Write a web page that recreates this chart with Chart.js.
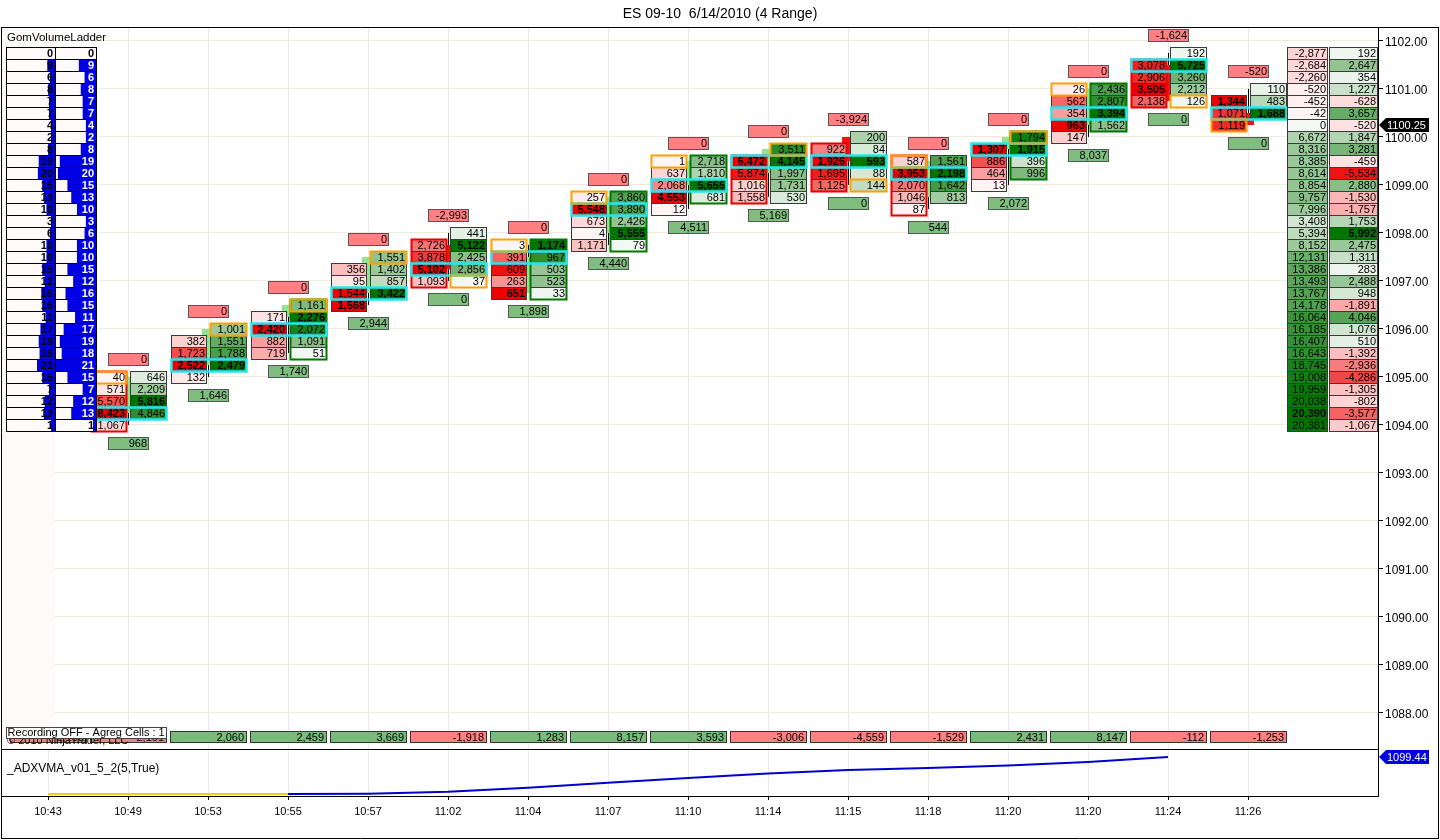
<!DOCTYPE html>
<html><head><meta charset="utf-8">
<script src="https://cdn.jsdelivr.net/npm/chart.js@4.4.1/dist/chart.umd.min.js"></script>
<style>html,body{margin:0;padding:0;background:#fff;overflow:hidden}canvas{display:block}</style>
</head><body>
<canvas id="c" width="1440" height="840"></canvas>
<script>
const chartTitle = 'ES 09-10  6/14/2010 (4 Range)';
const times = ['10:43','10:49','10:53','10:55','10:57','11:02','11:04','11:07','11:10','11:14','11:15','11:18','11:20','11:20','11:24','11:26'];
const priceTicks = [1088,1089,1090,1091,1092,1093,1094,1095,1096,1097,1098,1099,1100,1101,1102];

// footprint bars (bar index 1..15)
const barPos = [1,2,3,4,5,6,7,8,9,10,11,12,13,14,15];
const bidTop = [1095.00,1095.75,1096.25,1097.25,1097.75,1097.75,1098.75,1099.50,1099.50,1099.75,1099.50,1099.75,1101.00,1101.50,1100.75];
const bidVol = [[40,571,5570,8423,1067],[382,1723,2522,132],[171,2420,882,719],[356,95,1544,1568],[2726,3878,5102,1093],[3,391,609,263,651],[257,5548,673,4,1171],[1,637,2068,4553,12],[6472,5874,1016,1558],[922,1926,1695,1125],[587,3953,2070,1046,87],[1307,886,464,13],[26,562,354,963,147],[3078,2906,3505,2138],[1344,1071,1119]];
const askTop = [1095.00,1096.00,1096.50,1097.50,1098.00,1097.75,1098.75,1099.50,1099.75,1100.00,1099.50,1100.00,1101.00,1101.75,1101.00];
const askVol = [[646,2209,5816,4846],[1001,1551,1788,2479],[1161,2276,2072,1091,51],[1551,1402,857,3422],[441,5122,2425,2856,37],[1174,967,503,523,33],[3860,3890,2426,5555,79],[2718,1810,5655,681],[3511,4145,1997,1731,530],[200,84,593,88,144],[1561,2198,1642,813],[1794,1915,396,996],[2436,2807,3394,1562],[192,5725,3260,2212,126],[110,483,1688]];
const openP  = [1094.25,1095.25,1096.25,1096.75,1097.75,1096.75,1098.00,1099.00,1099.25,1100.00,1098.75,1099.75,1100.25,1101.50,1100.50];
const closeP = [1095.00,1096.00,1096.50,1097.50,1097.25,1097.50,1098.75,1099.50,1099.75,1099.50,1099.50,1100.00,1101.00,1100.75,1100.25];
const highP  = [1095.00,1096.00,1096.50,1097.50,1098.00,1097.75,1098.75,1099.50,1099.75,1100.00,1099.50,1100.00,1101.00,1101.75,1101.00];
const lowP   = [1094.00,1095.00,1095.50,1096.50,1097.00,1096.75,1097.75,1098.50,1098.75,1099.00,1098.50,1099.00,1100.00,1100.75,1100.25];
const topDelta = [0,0,0,0,-2993,0,0,0,0,-3924,0,0,0,-1624,-520];
const lowDelta = [968,1646,1740,2944,0,1898,4440,4511,5169,0,544,2072,8037,0,0];
const openSide = ['L','R','R','R','R','L','L','L','R','R','L','R','L','R','L'];
const openCell = [1095.00,1096.00,1096.50,1097.50,1097.00,1097.75,1098.75,1099.50,1099.75,1099.00,1099.50,1100.00,1101.00,1100.75,1100.25];
const pocPrice = [1094.25,1095.25,1096.00,1096.75,1097.25,1097.50,1098.50,1099.00,1099.50,1099.50,1099.25,1099.75,1100.50,1101.50,1100.50];
const boxSide = ['L','','R','','L','R','R','R','L','L','L','R','R','L',''];

// per-bar delta row at the bottom (bars 0..15)
const barDelta = [-2183,-2101,2060,2459,3669,-1918,1283,8157,3593,-3006,-4559,-1529,2431,8147,-112,-1253];

// volume ladder (left), from 1101.75 down by 0.25
const ladderTop = 1101.75;
const ladderVol = [0,9,6,8,7,7,4,2,8,19,20,15,13,10,3,6,10,10,15,12,16,15,11,17,19,18,21,15,7,12,13,1];

// cumulative delta ladder (right), from 1101.75 down by 0.25
const netA = [-2877,-2684,-2260,-520,-452,-42,0,6672,8316,8385,8614,8854,9757,7996,3408,5394,8152,12131,13386,13493,13767,14178,16064,16185,16407,16643,18745,19008,19959,20038,20390,20381];
const netB = [192,2647,354,1227,-628,3657,-520,1847,3281,-459,-5534,2880,-1530,-1757,1753,5992,2475,1311,283,2488,948,-1891,4046,1076,510,-1392,-2936,-4286,-1305,-802,-3577,-1067];

const lastPrice = 1100.25;
// ADXVMA sub-panel
const adxLabel = '_ADXVMA_v01_5_2(5,True)';
const adxValues = [1095.23,1095.23,1095.23,1095.23,1095.27,1095.49,1095.95,1096.50,1097.05,1097.55,1097.95,1098.20,1098.47,1098.87,1099.44];
const adxFlatUntil = 3;

const FONT = '"Liberation Sans", Arial, sans-serif';
const fmt = v => v.toLocaleString('en-US');
function mix(a,b,t){t=Math.max(0,Math.min(1,t));return 'rgb('+Math.round(a[0]+(b[0]-a[0])*t)+','+Math.round(a[1]+(b[1]-a[1])*t)+','+Math.round(a[2]+(b[2]-a[2])*t)+')';}
const W_R=[255,246,246], C_R=[238,0,0], W_G=[244,249,244], C_G=[0,118,0];
const redCol = r => mix(W_R,C_R,r);
const greenCol = r => mix(W_G,C_G,Math.pow(r,1.1));

function box(ctx,x1,y1,x2,y2,fill,stroke){
  x1=Math.round(x1);x2=Math.round(x2);y1=Math.round(y1);y2=Math.round(y2);
  if(fill){ctx.fillStyle=fill;ctx.fillRect(x1,y1,x2-x1,y2-y1);}
  if(stroke){ctx.strokeStyle=stroke;ctx.lineWidth=1;ctx.strokeRect(x1+0.5,y1+0.5,x2-x1,y2-y1);}
  return [x1,y1,x2,y2];
}
function txt(ctx,s,x,y,align,font,color){ctx.font=font;ctx.fillStyle=color||'#000';ctx.textAlign=align;ctx.textBaseline='middle';ctx.fillText(s,x,y);}
function outline(ctx,x1,y1,x2,y2,color,lw){ctx.strokeStyle=color;ctx.lineWidth=lw;ctx.strokeRect(Math.round(x1)+0.5,Math.round(y1)+0.5,Math.round(x2)-Math.round(x1),Math.round(y2)-Math.round(y1));}

const LC=[-0.4625,-0.025], RC=[0.025,0.475];

const footprint = {
  id:'footprint',
  afterDraw(chart){
    const ctx=chart.ctx, xs=chart.scales.x, ys=chart.scales.y, a=chart.chartArea;
    const X=v=>xs.getPixelForValue(v), Y=p=>ys.getPixelForValue(p);
    const sep = Math.round(Y(1087.25));
    ctx.save();
    // title
    txt(ctx,chartTitle,720,14,'center','14px '+FONT,'#000');
    // pale strip under ladder
    ctx.fillStyle='rgb(255,250,250)';ctx.fillRect(a.left+1,a.top+1,Math.round(X(0.0875))-a.left-1,sep-a.top-1);

    // footprint bars
    barPos.forEach((b,i)=>{
      const c=X(b);
      const up = closeP[i]>=openP[i];
      // wick
      ctx.strokeStyle='#000';ctx.lineWidth=1;ctx.beginPath();ctx.moveTo(Math.round(c)+0.5,Y(highP[i]));ctx.lineTo(Math.round(c)+0.5,Y(lowP[i]));ctx.stroke();
      // body
      const bt=Y(Math.max(openP[i],closeP[i])), bb=Y(Math.min(openP[i],closeP[i]));
      box(ctx,c-6,bt,c+6,Math.max(bb,bt+2),up?'rgb(144,228,144)':'rgb(240,20,20)',null);
      const bMax=Math.max(...bidVol[i]), aMax=Math.max(...askVol[i]);
      bidVol[i].forEach((v,k)=>{const p=bidTop[i]-0.25*k;
        box(ctx,X(b+LC[0]),Y(p+0.125),X(b+LC[1]),Y(p-0.125),redCol(v/bMax),'#3a3a3a');
        txt(ctx,fmt(v),Math.round(X(b+LC[1]))-1,Y(p)+1,'right',(v===bMax?'bold ':'')+'11px '+FONT,'#000');});
      askVol[i].forEach((v,k)=>{const p=askTop[i]-0.25*k;
        box(ctx,X(b+RC[0]),Y(p+0.125),X(b+RC[1]),Y(p-0.125),greenCol(v/aMax),'#3a3a3a');
        txt(ctx,fmt(v),Math.round(X(b+RC[1]))-1,Y(p)+1,'right',(v===aMax?'bold ':'')+'11px '+FONT,'#000');});
      // column outline
      if(boxSide[i]==='L'){const n=bidVol[i].length;outline(ctx,X(b+LC[0]),Y(bidTop[i]+0.125),X(b+LC[1]),Y(bidTop[i]-0.25*(n-1)-0.125),'rgb(230,0,0)',2);}
      if(boxSide[i]==='R'){const n=askVol[i].length;outline(ctx,X(b+RC[0]),Y(askTop[i]+0.125),X(b+RC[1]),Y(askTop[i]-0.25*(n-1)-0.125),'rgb(0,120,0)',2);}
      // POC row
      outline(ctx,X(b+LC[0]),Y(pocPrice[i]+0.125),X(b+RC[1]),Y(pocPrice[i]-0.125),'rgb(40,228,236)',2.5);
      // open cell
      const col=openSide[i]==='L'?LC:RC;
      outline(ctx,X(b+col[0]),Y(openCell[i]+0.125),X(b+col[1]),Y(openCell[i]-0.125),'rgb(255,160,0)',2);
      // labels
      const tp=highP[i]+0.375, lp=lowP[i]-0.375;
      box(ctx,X(b-0.25),Y(tp+0.125),X(b+0.25),Y(tp-0.125),'rgb(255,128,128)','#555');
      txt(ctx,fmt(topDelta[i]),Math.round(X(b+0.25))-1,Y(tp)+1,'right','11px '+FONT,'#000');
      box(ctx,X(b-0.25),Y(lp+0.125),X(b+0.25),Y(lp-0.125),'rgb(128,190,128)','#555');
      txt(ctx,fmt(lowDelta[i]),Math.round(X(b+0.25))-1,Y(lp)+1,'right','11px '+FONT,'#000');
    });

    // volume ladder
    txt(ctx,'GomVolumeLadder',a.left+6,Y(ladderTop+0.31),'left','11.5px '+FONT,'#000');
    const lMax=Math.max(...ladderVol);
    ladderVol.forEach((v,k)=>{const p=ladderTop-0.25*k;
      const y1=Y(p+0.125), y2=Y(p-0.125);
      const L=box(ctx,X(-0.53),y1,X(0.0875),y2,'rgb(255,250,250)',null);
      const R=box(ctx,X(0.0875),y1,X(0.6),y2,'rgb(255,250,250)',null);
      ctx.font='bold 11px '+FONT; const tw=ctx.measureText(String(v)).width;
      if(v>0){const wl=Math.max(v/lMax*18,4);ctx.fillStyle='rgb(0,0,228)';ctx.fillRect(L[2]-wl,L[1],wl,L[3]-L[1]);
              const wr=Math.max(v/lMax*(R[2]-R[0]-1),v>1?tw+4:3);ctx.fillRect(R[2]-wr,R[1],wr,R[3]-R[1]);}
      box(ctx,L[0],L[1],L[2],L[3],null,'#000');box(ctx,R[0],R[1],R[2],R[3],null,'#000');
      txt(ctx,String(v),L[2]-2,(L[1]+L[3])/2+1,'right','bold 11px '+FONT,'#000');
      txt(ctx,String(v),R[2]-2,(R[1]+R[3])/2+1,'right','bold 11px '+FONT,v>1?'#fff':'#000');
    });

    // cumulative delta ladder
    const mA=Math.max(...netA.map(Math.abs)), mB=Math.max(...netB.map(Math.abs));
    const pA=Math.max(...netA), pB=Math.max(...netB);
    [[netA,mA,pA,15.4875,15.9875],[netB,mB,pB,16.0125,16.615]].forEach(([arr,m,pm,x1,x2])=>{
      arr.forEach((v,k)=>{const p=ladderTop-0.25*k;
        const fill=v>=0?greenCol(v/m):redCol(-v/m);
        box(ctx,X(x1),Y(p+0.125),X(x2),Y(p-0.125),fill,'#3a3a3a');
        txt(ctx,fmt(v),Math.round(X(x2))-1,Y(p)+1,'right',(v===pm?'bold ':'')+'11px '+FONT,'#000');});
    });

    // bottom delta row
    const dt=sep-18, db=sep-7;
    barDelta.forEach((v,i)=>{
      box(ctx,X(i-0.475),dt,X(i+0.475),db,v>=0?'rgb(122,186,122)':'rgb(255,128,128)','#333');
      txt(ctx,fmt(v),Math.round(X(i+0.475))-2,(dt+db)/2+1,'right','11px '+FONT,'#000');
    });
    txt(ctx,'\u00a9 2010 NinjaTrader, LLC',a.left+6,sep-8,'left','11px '+FONT,'#000');
    box(ctx,X(-0.53),sep-22,X(1.475),sep-11,'#fff','#444');
    txt(ctx,'Recording OFF - Agreg Cells : 1',X(-0.53)+2,sep-16,'left','11px '+FONT,'#000');

    // panel lines and frame
    ctx.strokeStyle='#000';ctx.lineWidth=1;ctx.beginPath();
    ctx.moveTo(a.left,sep+0.5);ctx.lineTo(a.right,sep+0.5);
    ctx.moveTo(a.left,a.top+0.5);ctx.lineTo(1439,a.top+0.5);
    ctx.moveTo(a.left+0.5,a.top);ctx.lineTo(a.left+0.5,838);
    ctx.moveTo(a.left,838.5);ctx.lineTo(1439,838.5);
    ctx.moveTo(1438.5,a.top);ctx.lineTo(1438.5,839);
    ctx.stroke();

    // sub-panel label
    txt(ctx,adxLabel,a.left+6,sep+20,'left','12px '+FONT,'#000');

    // price tags
    function tag(y,label,color){
      y=Math.round(y);const x0=Math.round(a.right)+1;
      ctx.fillStyle=color;ctx.beginPath();ctx.moveTo(x0,y);ctx.lineTo(x0+7,y-7);ctx.lineTo(x0+50,y-7);ctx.lineTo(x0+50,y+7);ctx.lineTo(x0+7,y+7);ctx.closePath();ctx.fill();
      txt(ctx,label,x0+8,y+1,'left','11px '+FONT,'#fff');
    }
    tag(Y(lastPrice),lastPrice.toFixed(2),'#000');
    const ys2=chart.scales.y2;
    tag(ys2.getPixelForValue(adxValues[adxValues.length-1]),adxValues[adxValues.length-1].toFixed(2),'rgb(0,0,225)');
    ctx.restore();
  }
};

const gridCol='#ebebdf';
new Chart(document.getElementById('c').getContext('2d'),{
  type:'line',
  data:{datasets:[{
    data:adxValues.map((v,i)=>({x:i,y:v})),
    yAxisID:'y2',xAxisID:'x',borderWidth:2,pointRadius:0,tension:0,
    borderColor:'rgb(0,0,205)',
    segment:{borderColor:c=>c.p1DataIndex<=adxFlatUntil?'rgb(250,200,30)':'rgb(0,0,205)'}
  }]},
  options:{
    responsive:false,animation:false,devicePixelRatio:1,
    layout:{padding:{left:1,top:27,right:0,bottom:0}},
    plugins:{legend:{display:false},tooltip:{enabled:false},title:{display:false}},
    scales:{
      x:{type:'linear',min:-0.5875,max:16.625,
        afterBuildTicks:s=>{s.ticks=times.map((t,i)=>({value:i}));},
        afterFit:s=>{s.height=44;},
        ticks:{callback:v=>times[v],font:{family:FONT,size:11},color:'#000',padding:5,maxRotation:0,autoSkip:false},
        grid:{color:gridCol,tickColor:'#000',tickLength:4},border:{color:'#000'}},
      y:{type:'linear',position:'right',min:1086.27,max:1102.29,
        afterBuildTicks:s=>{s.ticks=priceTicks.map(v=>({value:v}));},
        afterFit:s=>{s.width=62;},
        ticks:{callback:v=>Number(v).toFixed(2),font:{family:FONT,size:12},color:'#000',padding:2,labelOffset:2},
        grid:{color:gridCol,tickColor:'#000',tickLength:5},border:{color:'#000'}},
      y2:{type:'linear',display:false,min:1095,max:1182.6}
    }
  },
  plugins:[footprint]
});
</script>
</body></html>
